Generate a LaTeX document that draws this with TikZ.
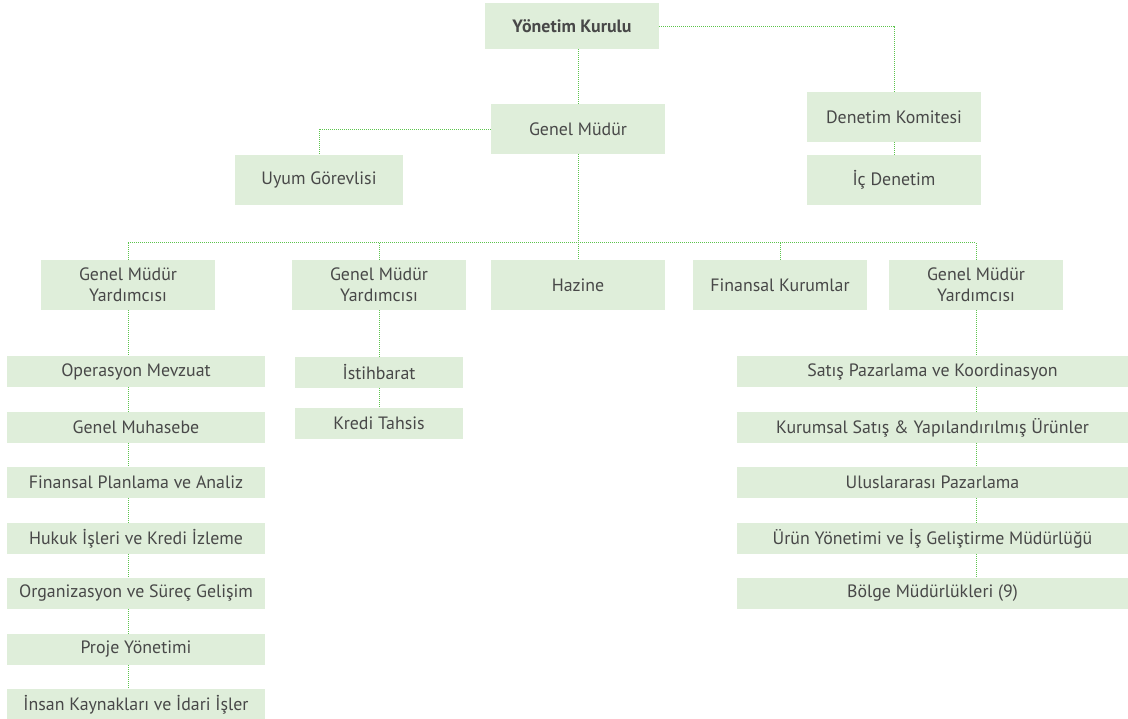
\documentclass[tikz,border=0pt]{standalone}
\usepackage{fontspec}
\setmainfont{PT Sans}
\definecolor{boxgreen}{RGB}{223,238,218}
\definecolor{linegreen}{RGB}{92,196,76}
\definecolor{txtgray}{RGB}{72,72,72}

\begin{document}
\begin{tikzpicture}[x=0.75pt,y=-0.75pt]
\tikzset{B/.style={fill=boxgreen,text=txtgray,inner sep=0pt,align=center,
  minimum width=130.5pt,minimum height=37.5pt,font=\fontsize{13.4}{16}\selectfont}}
\tikzset{S/.style={B,minimum height=23.25pt}}
\tikzset{link/.style={linegreen,line width=0.75pt,dash pattern=on 0.75pt off 0.75pt}}

  \useasboundingbox (0,0) rectangle (1128,718);

  % top
  \node[B,minimum height=34.5pt,font=\fontsize{13.4}{16}\selectfont\bfseries] (yk) at (572,26) {Yönetim Kurulu};
  \node[B] (gm) at (578,129) {Genel Müdür};
  \node[B,minimum width=126pt] (uyum) at (319,180) {Uyum Görevlisi};
  \node[B] (dk) at (894,117) {Denetim Komitesi};
  \node[B] (ic) at (894,180) {İç Denetim};

  % second row
  \node[B] (gmy1) at (128,285) {Genel Müdür\\Yardımcısı};
  \node[B] (gmy2) at (379,285) {Genel Müdür\\Yardımcısı};
  \node[B] (hazine) at (578,285) {Hazine};
  \node[B] (fk) at (780,285) {Finansal Kurumlar};
  \node[B] (gmy3) at (976,285) {Genel Müdür\\Yardımcısı};

  % left list
  \node[S,minimum width=193.5pt] (op) at (136,371.5) {Operasyon Mevzuat};
  \node[S,minimum width=193.5pt] (gmh) at (136,427.5) {Genel Muhasebe};
  \node[S,minimum width=193.5pt] (fp) at (136,482.5) {Finansal Planlama ve Analiz};
  \node[S,minimum width=193.5pt] (hk) at (136,538.5) {Hukuk İşleri ve Kredi İzleme};
  \node[S,minimum width=193.5pt] (org) at (136,593.5) {Organizasyon ve Süreç Gelişim};
  \node[S,minimum width=193.5pt] (pj) at (136,649.5) {Proje Yönetimi};
  \node[S,minimum width=193.5pt] (ik) at (136,704.5) {İnsan Kaynakları ve İdari İşler};

  % middle list
  \node[S,minimum width=126pt] (ist) at (379,372.5) {İstihbarat};
  \node[S,minimum width=126pt] (kt) at (379,423.5) {Kredi Tahsis};

  % right list
  \node[S,minimum width=293.25pt] (sp) at (932.5,371.5) {Satış Pazarlama ve Koordinasyon};
  \node[S,minimum width=293.25pt] (ks) at (932.5,427.5) {Kurumsal Satış \& Yapılandırılmış Ürünler};
  \node[S,minimum width=293.25pt] (up) at (932.5,482.5) {Uluslararası Pazarlama};
  \node[S,minimum width=293.25pt] (uy) at (932.5,538.5) {Ürün Yönetimi ve İş Geliştirme Müdürlüğü};
  \node[S,minimum width=293.25pt] (bm) at (932.5,593.5) {Bölge Müdürlükleri (9)};

  \coordinate (bus) at (0,242);

  \draw[link] (gm.north) -- (gm.north |- yk.south);
  \draw[link] (yk.east) -| (dk.north);
  \draw[link] (dk) -- (ic);
  \draw[link] (gm.west) -| (uyum.north);
  \draw[link] (gm.south) -- (hazine.north);
  \draw[link] (gmy1.north |- bus) -- (gmy3.north |- bus);
  \foreach \n in {gmy1,gmy2,fk,gmy3}
    \draw[link] (\n.north) -- (\n.north |- bus);

  \foreach \a/\b in {gmy1/op,op/gmh,gmh/fp,fp/hk,hk/org,org/pj,pj/ik}
    \draw[link] (\a.south -| gmy1) -- (\b.north -| gmy1);
  \foreach \a/\b in {gmy2/ist,ist/kt}
    \draw[link] (\a.south -| gmy2) -- (\b.north -| gmy2);
  \foreach \a/\b in {gmy3/sp,sp/ks,ks/up,up/uy,uy/bm}
    \draw[link] (\a.south -| gmy3) -- (\b.north -| gmy3);
\end{tikzpicture}
\end{document}
